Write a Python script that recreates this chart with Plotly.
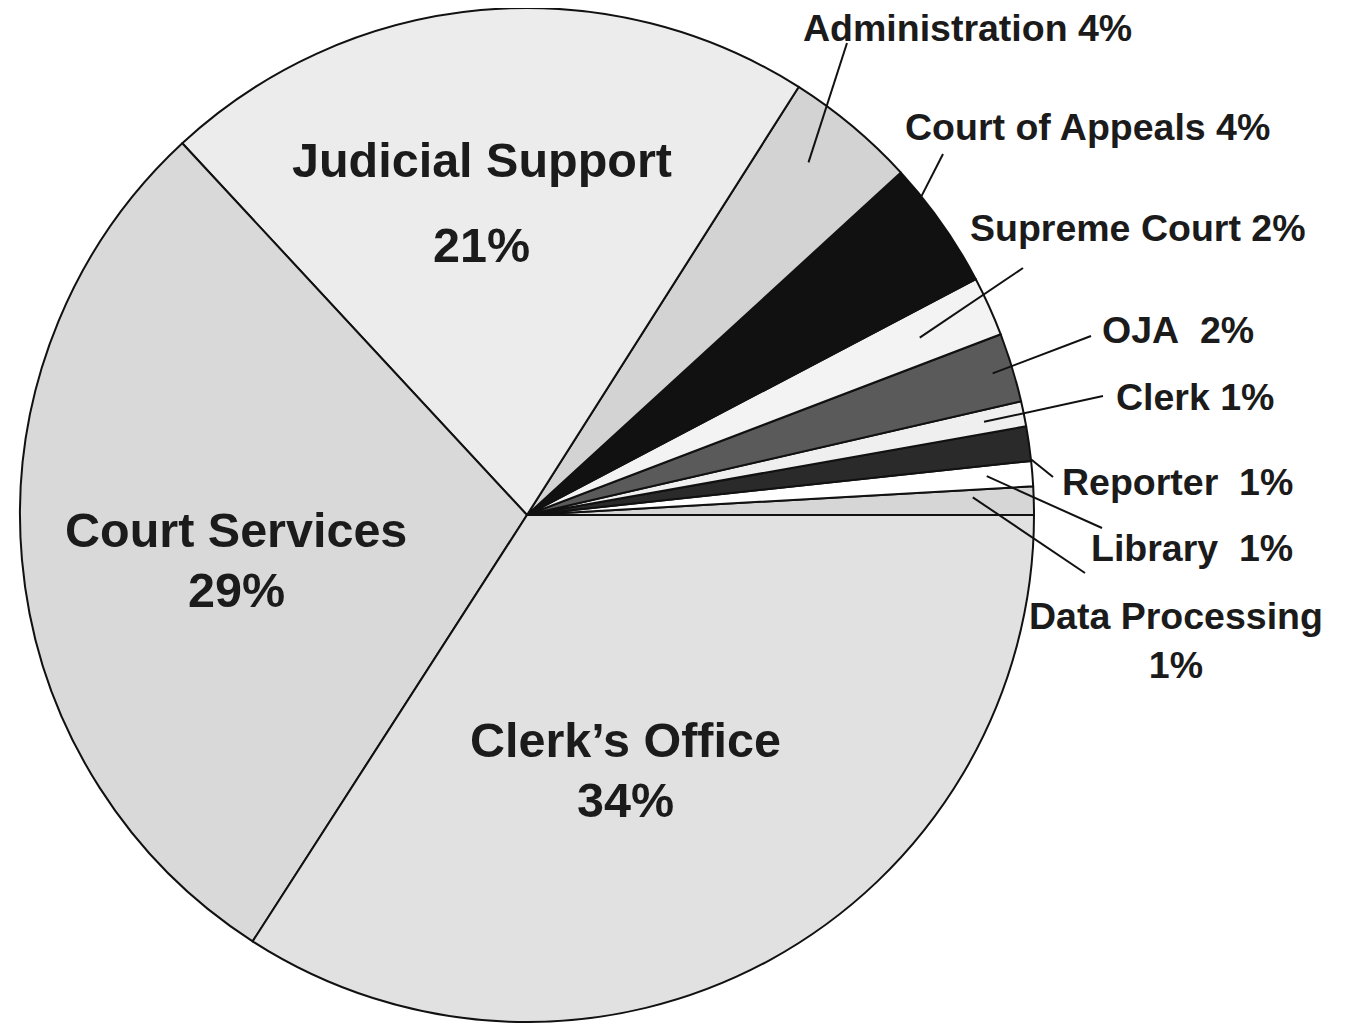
import math
import plotly.graph_objects as go

# ---- data ----
categories = ["Data Processing", "Library", "Reporter", "Clerk", "OJA",
              "Supreme Court", "Court of Appeals", "Administration",
              "Judicial Support", "Court Services", "Clerk's Office"]
shares = [0.9, 0.8, 1.1, 0.8, 2.2, 1.9, 4.1, 4.2, 20.9, 29.0, 34.1]
pct_labels = ["1%", "1%", "1%", "1%", "2%", "2%", "4%", "4%", "21%", "29%", "34%"]

# ---- styling ----
colors = ["#d6d6d6", "#ffffff", "#2a2a2a", "#efefef", "#5a5a5a",
          "#f3f3f3", "#111111", "#d3d3d3", "#ececec", "#d9d9d9", "#e1e1e1"]

OFF = 8                      # page body margin of the html page
W, H = 1345 - OFF, 1023 - OFF
CX, CY, R = 527, 515, 507    # pie centre / radius in page pixels

def fx(x):
    return (x - OFF) / W

def fy(y):
    return 1 - (y - OFF) / H

dom_x = [fx(CX - R), fx(CX + R)]
dom_y = [max(0.0, fy(CY + R)), min(1.0, fy(CY - R))]

total = sum(shares)
# first slice should start exactly at 3 o'clock, going counterclockwise
rot = 90 - 360.0 * shares[0] / total

fig = go.Figure(go.Pie(
    labels=categories, values=shares, sort=False,
    direction="counterclockwise", rotation=rot,
    marker=dict(colors=colors, line=dict(color="#111111", width=2)),
    textinfo="none", hoverinfo="label+percent", showlegend=False,
    domain=dict(x=dom_x, y=dom_y),
))

FONT = "Liberation Sans, Arial, sans-serif"
TXT = "#1b1b1b"
annotations = []
shapes = []

# start / end angles of every slice (degrees, counterclockwise from 3 o'clock)
span = {}
acc = 0.0
for c, v in zip(categories, shares):
    span[c] = (360.0 * acc / total, 360.0 * (acc + v) / total)
    acc += v

# big inner labels: (category, name line position, percent line position)
inner = {
    "Judicial Support": ((482, 160), (482, 245)),
    "Court Services": ((236, 530), (236, 590)),
    "Clerk's Office": ((625, 740), (625, 800)),
}
for c, (p1, p2) in inner.items():
    i = categories.index(c)
    for txt, p in ((c.replace("'", "\u2019"), p1), (pct_labels[i], p2)):
        annotations.append(dict(x=fx(p[0]), y=fy(p[1]), xref="paper", yref="paper",
                                text="<b>%s</b>" % txt, showarrow=False,
                                font=dict(family=FONT, size=48.5, color=TXT),
                                xanchor="center", yanchor="middle"))

# outside labels: category -> (label centre, leader end,
#                              radial fraction, angular fraction within slice, separator)
outer = {
    "Administration": ((967, 28), (847, 43), 0.89, 0.59, " "),
    "Court of Appeals": ((1087, 127), (943, 154), 1.0, 0.76, " "),
    "Supreme Court": ((1138, 228), (1023, 268), 0.85, 0.5, " "),
    "OJA": ((1178, 330), (1091, 336), 0.96, 0.5, "\u00a0\u00a0"),
    "Clerk": ((1195, 397), (1103, 396), 0.92, 0.5, " "),
    "Reporter": ((1177, 482), (1053, 477), 1.0, 0.05, "\u00a0\u00a0"),
    "Library": ((1192, 548), (1102, 528), 0.91, 0.55, "\u00a0\u00a0"),
    "Data Processing": ((1176, 640), (1085, 573), 0.88, 0.7, "<br>"),
}
for c, (lab, end, rf, af, sep) in outer.items():
    i = categories.index(c)
    annotations.append(dict(x=fx(lab[0]), y=fy(lab[1]), xref="paper", yref="paper",
                            text="<b>%s%s%s</b>" % (c, sep, pct_labels[i]),
                            showarrow=False,
                            font=dict(family=FONT, size=37.5, color=TXT),
                            xanchor="center", yanchor="middle"))
    a0, a1 = span[c]
    a = math.radians(a0 + af * (a1 - a0))
    sx = CX + R * rf * math.cos(a)
    sy = CY - R * rf * math.sin(a)
    shapes.append(dict(type="line", xref="paper", yref="paper",
                       x0=fx(sx), y0=fy(sy), x1=fx(end[0]), y1=fy(end[1]),
                       line=dict(color="#111111", width=2)))

fig.update_layout(
    width=W, height=H, margin=dict(l=0, r=0, t=0, b=0),
    paper_bgcolor="white", plot_bgcolor="white",
    annotations=annotations, shapes=shapes,
)

fig.write_html("out.html")
